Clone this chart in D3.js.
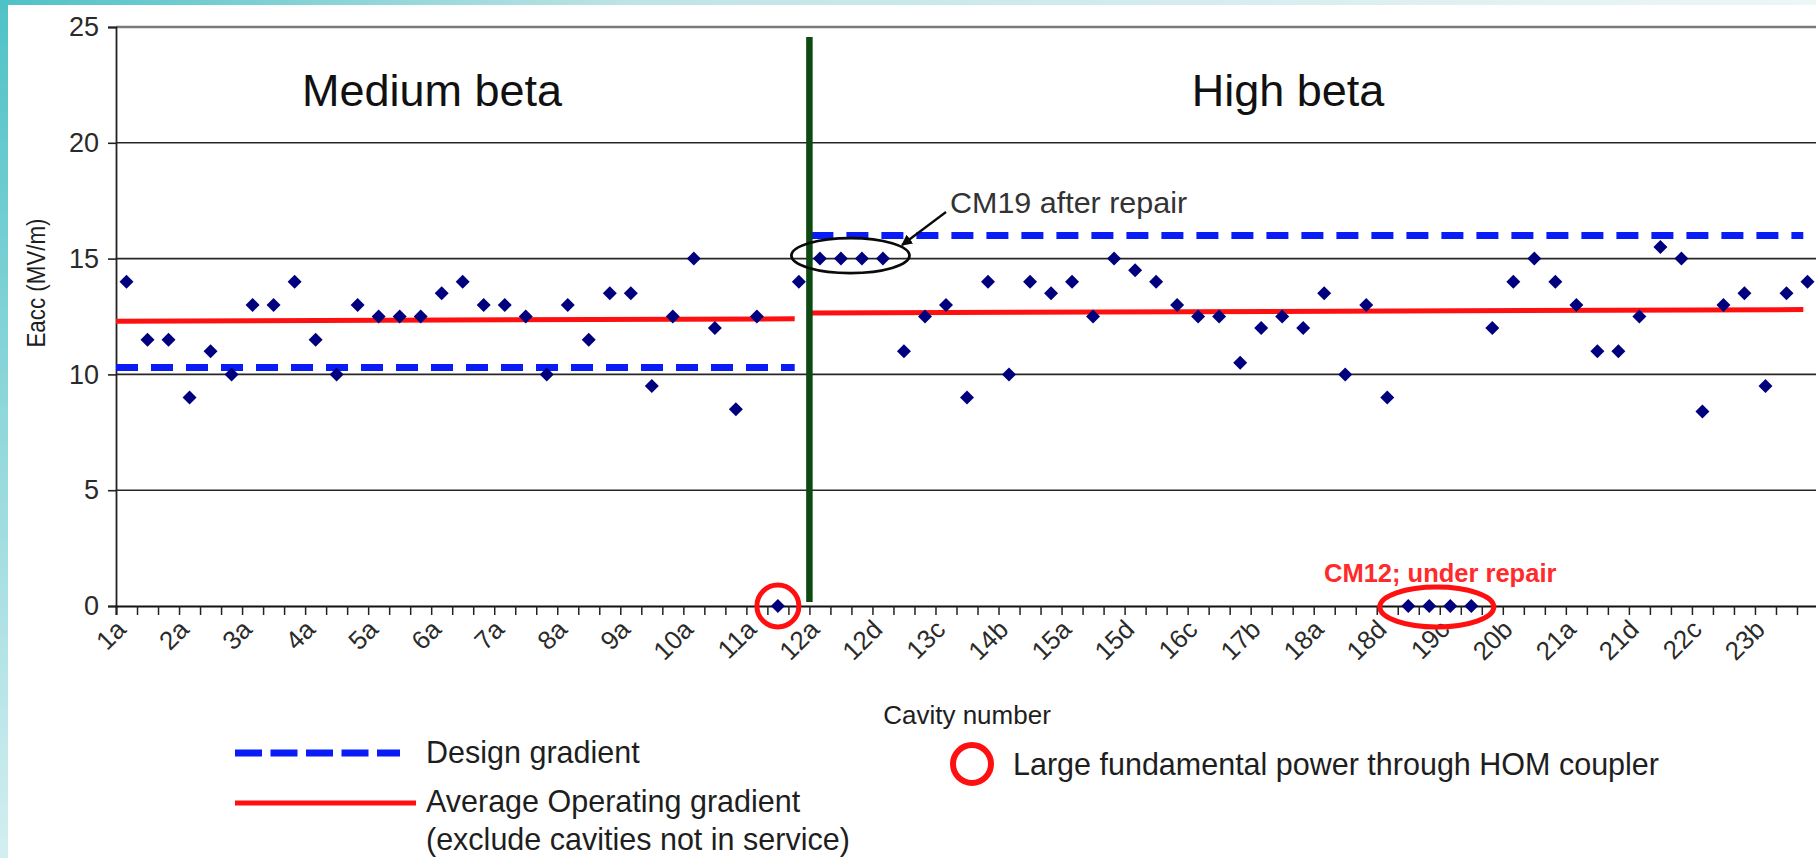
<!DOCTYPE html>
<html>
<head>
<meta charset="utf-8">
<script src="https://cdn.jsdelivr.net/npm/d3@7"></script>
<style>
  html, body { margin: 0; padding: 0; background: #ffffff; }
  svg { display: block; }
  text { font-family: "Liberation Sans", Arial, sans-serif; }
</style>
</head>
<body>
<svg id="chart" width="1816" height="858"></svg>
<script>
// Cavity slots: medium beta CM1-CM11 (a-c), high beta CM12-CM23 (a-d)
const categories = [
  "1a","1b","1c","2a","2b","2c","3a","3b","3c","4a","4b","4c",
  "5a","5b","5c","6a","6b","6c","7a","7b","7c","8a","8b","8c",
  "9a","9b","9c","10a","10b","10c","11a","11b","11c",
  "12a","12b","12c","12d","13a","13b","13c","13d","14a","14b","14c","14d",
  "15a","15b","15c","15d","16a","16b","16c","16d","17a","17b","17c","17d",
  "18a","18b","18c","18d","19a","19b","19c","19d","20a","20b","20c","20d",
  "21a","21b","21c","21d","22a","22b","22c","22d","23a","23b","23c","23d"
];

// Operating gradient per cavity (MV/m)
const eacc = [
  14, 11.5, 11.5, 9, 11, 10, 13, 13, 14, 11.5, 10, 13,
  12.5, 12.5, 12.5, 13.5, 14, 13, 13, 12.5, 10, 13, 11.5, 13.5,
  13.5, 9.5, 12.5, 15, 12, 8.5, 12.5, 0, 14,
  15, 15, 15, 15, 11, 12.5, 13, 9, 14, 10, 14, 13.5,
  14, 12.5, 15, 14.5, 14, 13, 12.5, 12.5, 10.5, 12, 12.5, 12,
  13.5, 10, 13, 9, 0, 0, 0, 0, 12, 14, 15, 14,
  13, 11, 11, 12.5, 15.5, 15, 8.4, 13, 13.5, 9.5, 13.5, 14
];

const tickLabels = ["1a","2a","3a","4a","5a","6a","7a","8a","9a","10a","11a",
  "12a","12d","13c","14b","15a","15d","16c","17b","18a","18d","19c","20b",
  "21a","21d","22c","23b"];
const yTicks = [0, 5, 10, 15, 20, 25];

// Section boundaries (first / last cavity of each section)
const mediumRange = ["1a", "11c"];
const highRange = ["12a", "23d"];

// Design gradient per section
const designMedium = 10.3;
const designHigh = 16.0;
// Average operating gradient per section (start, end of the fitted line)
const avgMedium = [12.3, 12.4];
const avgHigh = [12.65, 12.8];

// Highlighted cavities
const homCavities = ["11b"];
const cm19Cavities = ["12a", "12b", "12c", "12d"];
const repairCavities = ["19a", "19b", "19c", "19d"];

const svg = d3.select("#chart");
const W = 1816, H = 858;
const plot = { left: 116, right: 1818, top: 27, bottom: 606 };
const FONT = "Liberation Sans, Arial, sans-serif";

// Slide decoration: teal strips along top and left edge
const defs = svg.append("defs");
const gTop = defs.append("linearGradient").attr("id", "topStrip")
  .attr("x1", "0").attr("x2", "1").attr("y1", "0").attr("y2", "0");
gTop.append("stop").attr("offset", "0").attr("stop-color", "#4fc2c6");
gTop.append("stop").attr("offset", "0.35").attr("stop-color", "#bfe4e6");
gTop.append("stop").attr("offset", "1").attr("stop-color", "#eef6f7");
const gLeft = defs.append("linearGradient").attr("id", "leftStrip")
  .attr("x1", "0").attr("x2", "0").attr("y1", "0").attr("y2", "1");
gLeft.append("stop").attr("offset", "0").attr("stop-color", "#4fc2c6");
gLeft.append("stop").attr("offset", "1").attr("stop-color", "#d3eef0");

svg.append("rect").attr("x", 0).attr("y", 0).attr("width", W).attr("height", H).attr("fill", "#ffffff");
svg.append("rect").attr("x", 0).attr("y", 0).attr("width", W).attr("height", 5).attr("fill", "url(#topStrip)");
svg.append("rect").attr("x", 0).attr("y", 0).attr("width", 8).attr("height", H).attr("fill", "url(#leftStrip)");

// Scales
const x = d3.scaleBand().domain(categories).range([plot.left, plot.right]).paddingInner(0).paddingOuter(0);
const bw = x.bandwidth();
const xEdge = d3.scaleLinear().domain([0, categories.length]).range([plot.left, plot.right]);
const y = d3.scaleLinear().domain([0, 25]).range([plot.bottom, plot.top]);
const cx = c => x(c) + bw / 2;

// Horizontal gridlines
svg.append("g").selectAll("line").data(yTicks.filter(v => v > 0)).join("line")
  .attr("x1", plot.left).attr("x2", plot.right)
  .attr("y1", d => y(d)).attr("y2", d => y(d))
  .attr("stroke", d => d === 25 ? "#7a7a7a" : "#262626")
  .attr("stroke-width", d => d === 25 ? 2.6 : 1.6);

// Y axis
const yAxis = svg.append("g").attr("transform", `translate(${plot.left},0)`)
  .call(d3.axisLeft(y).tickValues(yTicks).tickSize(8).tickPadding(9));
yAxis.select(".domain").attr("stroke", "#222").attr("stroke-width", 1.8);
yAxis.selectAll(".tick line").attr("stroke", "#222").attr("stroke-width", 1.6);
yAxis.selectAll(".tick text").attr("font-size", 27).attr("fill", "#2a2a2a")
  .attr("font-family", FONT);

svg.append("text")
  .attr("transform", "translate(45,283) rotate(-90) scale(0.86,1)")
  .attr("text-anchor", "middle").attr("font-size", 26).attr("fill", "#1e1e1e")
  .text("Eacc (MV/m)");

// X axis: ticks at cavity boundaries
const xTicks = svg.append("g").attr("transform", `translate(0,${plot.bottom})`)
  .call(d3.axisBottom(xEdge).tickValues(d3.range(categories.length + 1)).tickSize(9).tickFormat(""));
xTicks.select(".domain").attr("stroke", "#111").attr("stroke-width", 2);
xTicks.selectAll(".tick line").attr("stroke", "#222").attr("stroke-width", 1.5);

// X axis labels (every third cavity), rotated
const xLab = svg.append("g").attr("transform", `translate(0,${plot.bottom})`)
  .call(d3.axisBottom(x).tickValues(tickLabels).tickSize(0).tickPadding(0));
xLab.select(".domain").remove();
xLab.selectAll(".tick text")
  .attr("font-size", 26).attr("fill", "#2a2a2a")
  .attr("font-family", FONT)
  .attr("text-anchor", "end").attr("dy", null).attr("y", 0)
  .attr("transform", "translate(1,25) rotate(-45)");

svg.append("text").attr("x", (plot.left + plot.right) / 2).attr("y", 724)
  .attr("text-anchor", "middle").attr("font-size", 26).attr("fill", "#1e1e1e")
  .text("Cavity number");

// Section titles
svg.append("text").attr("x", 432).attr("y", 106).attr("text-anchor", "middle")
  .attr("font-size", 45).attr("fill", "#111").text("Medium beta");
svg.append("text").attr("x", 1288).attr("y", 106).attr("text-anchor", "middle")
  .attr("font-size", 45).attr("fill", "#111").text("High beta");

// Design gradient (dashed) and average operating gradient (solid) per section
const medX0 = x(mediumRange[0]), medX1 = x(mediumRange[1]) + bw * 0.3;
const highX0 = x(highRange[0]) + 2, highX1 = x(highRange[1]) + bw * 0.3;

const design = [
  { x0: medX0, x1: medX1, v: designMedium },
  { x0: highX0, x1: highX1, v: designHigh }
];
svg.append("g").selectAll("line").data(design).join("line")
  .attr("x1", d => d.x0).attr("x2", d => d.x1)
  .attr("y1", d => y(d.v)).attr("y2", d => y(d.v))
  .attr("stroke", "#0a1cf5").attr("stroke-width", 7).attr("stroke-dasharray", "22 13");

const avg = [
  { x0: medX0, x1: medX1, v0: avgMedium[0], v1: avgMedium[1] },
  { x0: highX0, x1: highX1, v0: avgHigh[0], v1: avgHigh[1] }
];
svg.append("g").selectAll("line").data(avg).join("line")
  .attr("x1", d => d.x0).attr("x2", d => d.x1)
  .attr("y1", d => y(d.v0)).attr("y2", d => y(d.v1))
  .attr("stroke", "#ff1010").attr("stroke-width", 5);

// Section divider
svg.append("line")
  .attr("x1", xEdge(categories.indexOf(highRange[0]))).attr("x2", xEdge(categories.indexOf(highRange[0])))
  .attr("y1", 37).attr("y2", 602)
  .attr("stroke", "#0d4a12").attr("stroke-width", 6.5);

// Cavity markers
const diamond = d3.symbol().type(d3.symbolSquare).size(98);
svg.append("g").selectAll("path").data(categories).join("path")
  .attr("d", diamond)
  .attr("transform", (c, i) => `translate(${cx(c)},${y(eacc[i])}) rotate(45)`)
  .attr("fill", "#00007e");

// CM19 annotation
const cm19x0 = x(cm19Cavities[0]), cm19x1 = x(cm19Cavities[cm19Cavities.length - 1]) + bw;
const cm19v = eacc[categories.indexOf(cm19Cavities[0])];
svg.append("ellipse")
  .attr("cx", (cm19x0 + cm19x1) / 2 - 1).attr("cy", y(cm19v) - 3)
  .attr("rx", (cm19x1 - cm19x0) / 2 + 17).attr("ry", 17.5)
  .attr("fill", "none").attr("stroke", "#0a0a0a").attr("stroke-width", 2.8);

defs.append("marker").attr("id", "arrowHead").attr("viewBox", "0 0 10 10")
  .attr("refX", 9).attr("refY", 5).attr("markerWidth", 5).attr("markerHeight", 5)
  .attr("orient", "auto")
  .append("path").attr("d", "M0,0 L10,5 L0,10 z").attr("fill", "#0a0a0a");
svg.append("line").attr("x1", 946).attr("y1", 212).attr("x2", 902).attr("y2", 245)
  .attr("stroke", "#0a0a0a").attr("stroke-width", 2.2).attr("marker-end", "url(#arrowHead)");
svg.append("text").attr("x", 950).attr("y", 214).attr("font-size", 30.5).attr("fill", "#333")
  .attr("transform", "translate(950,0) scale(1,0.94) translate(-950,13)")
  .text("CM19 after repair");

// HOM coupler markers
svg.append("g").selectAll("circle").data(homCavities).join("circle")
  .attr("cx", c => cx(c)).attr("cy", c => y(eacc[categories.indexOf(c)]))
  .attr("r", 21).attr("fill", "none").attr("stroke", "#ff1010").attr("stroke-width", 5);

const repX0 = x(repairCavities[0]), repX1 = x(repairCavities[repairCavities.length - 1]) + bw;
svg.append("ellipse")
  .attr("cx", (repX0 + repX1) / 2 - 3).attr("cy", y(0) + 1)
  .attr("rx", (repX1 - repX0) / 2 + 15).attr("ry", 20)
  .attr("fill", "none").attr("stroke", "#ff1010").attr("stroke-width", 5);
svg.append("text").attr("x", 1324).attr("y", 582).attr("font-size", 25.5)
  .attr("font-weight", "bold").attr("fill", "#ff2a2a").text("CM12; under repair");

// Legend
const legend = svg.append("g");
legend.append("line").attr("x1", 235).attr("x2", 400).attr("y1", 753).attr("y2", 753)
  .attr("stroke", "#0a1cf5").attr("stroke-width", 7).attr("stroke-dasharray", "27 8.5");
legend.append("text").attr("x", 426).attr("y", 763).attr("font-size", 30.5).attr("fill", "#1e1e1e")
  .text("Design gradient");
legend.append("line").attr("x1", 235).attr("x2", 416).attr("y1", 803).attr("y2", 803)
  .attr("stroke", "#ff1010").attr("stroke-width", 5);
legend.append("text").attr("x", 426).attr("y", 812).attr("font-size", 30.5).attr("fill", "#1e1e1e")
  .text("Average Operating gradient");
legend.append("text").attr("x", 426).attr("y", 850).attr("font-size", 30.5).attr("fill", "#1e1e1e")
  .text("(exclude cavities not in service)");
legend.append("circle").attr("cx", 972).attr("cy", 764).attr("r", 19)
  .attr("fill", "none").attr("stroke", "#ff1010").attr("stroke-width", 6);
legend.append("text").attr("x", 1013).attr("y", 775).attr("font-size", 30.5).attr("fill", "#1e1e1e")
  .text("Large fundamental power through HOM coupler");
</script>
</body>
</html>
